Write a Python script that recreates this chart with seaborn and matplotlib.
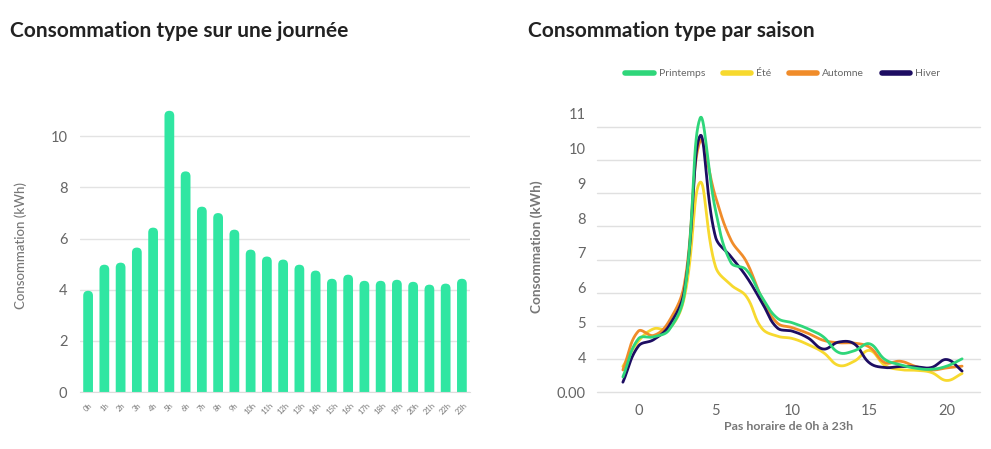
import numpy as np
import pandas as pd
import seaborn as sns
import matplotlib.pyplot as plt
from matplotlib.patches import FancyBboxPatch
from matplotlib.lines import Line2D

# left chart: average day
hours = [f"{h}h" for h in range(24)]
day_kwh = [3.96, 4.98, 5.06, 5.65, 6.43, 11.0, 8.63, 7.25, 7.0, 6.35, 5.57, 5.3,
           5.18, 4.98, 4.75, 4.43, 4.59, 4.35, 4.35, 4.39, 4.31, 4.2, 4.24, 4.43]

# right chart: per season
season_x = list(range(-1, 22))
printemps = [3.45, 4.54, 4.6, 4.8, 5.86, 10.85, 8.24, 6.73, 6.52, 5.75, 5.14, 5.0,
             4.83, 4.6, 4.15, 4.2, 4.4, 3.95, 3.8, 3.7, 3.67, 3.76, 3.97]
ete = [3.75, 4.47, 4.83, 4.83, 5.76, 9.02, 6.62, 6.09, 5.76, 4.85, 4.62, 4.55,
       4.38, 4.15, 3.78, 3.9, 4.21, 3.78, 3.66, 3.64, 3.58, 3.35, 3.55]
automne = [3.65, 4.76, 4.64, 5.05, 6.14, 10.2, 8.62, 7.38, 6.76, 5.72, 5.0, 4.86,
           4.7, 4.5, 4.43, 4.42, 4.3, 3.86, 3.9, 3.75, 3.65, 3.71, 3.76]
hiver = [3.3, 4.33, 4.52, 4.92, 5.95, 10.35, 7.47, 6.9, 6.33, 5.6, 4.86, 4.76,
         4.57, 4.25, 4.45, 4.4, 3.85, 3.72, 3.75, 3.74, 3.72, 3.95, 3.62]
seasons = ["Printemps", "Été", "Automne", "Hiver"]
colors = {"Printemps": "#2fd67a", "Été": "#f7d92e", "Automne": "#f08c2a", "Hiver": "#1d0d62"}
yticks_r = [3, 4, 5, 6, 7, 8, 9, 10, 11]
ytick_labels_r = ["0.00", "4", "5", "6", "7", "8", "9", "10", "11"]


def smooth_curve(x, y, tension=0.4, sx=15.42, sy=35.0, n=40):
    # bezier smoothing like the web chart (control points from neighbours)
    p = np.column_stack([np.asarray(x, float) * sx, np.asarray(y, float) * sy])
    k = len(p)
    cprev, cnext = np.zeros_like(p), np.zeros_like(p)
    for i in range(k):
        a, c = p[max(i - 1, 0)], p[min(i + 1, k - 1)]
        d01, d12 = np.hypot(*(p[i] - a)), np.hypot(*(c - p[i]))
        tot = d01 + d12
        s01, s12 = (d01 / tot, d12 / tot) if tot else (0, 0)
        cprev[i] = p[i] - tension * s01 * (c - a)
        cnext[i] = p[i] + tension * s12 * (c - a)
    t = np.linspace(0, 1, n)[:, None]
    pts = []
    for i in range(k - 1):
        b = ((1 - t) ** 3 * p[i] + 3 * (1 - t) ** 2 * t * cnext[i]
             + 3 * (1 - t) * t ** 2 * cprev[i + 1] + t ** 3 * p[i + 1])
        pts.append(b if i == 0 else b[1:])
    pts = np.vstack(pts)
    return pts[:, 0] / sx, pts[:, 1] / sy


sns.set_style("white")
plt.rcParams['font.family'] = ['Lato', 'DejaVu Sans']

fig = plt.figure(figsize=(9.91, 4.49), dpi=100)
ax1 = fig.add_axes([0.0807, 0.1269, 0.3936, 0.6548])
ax2 = fig.add_axes([0.6024, 0.1254, 0.3865, 0.6519])

# ---- left: bars
df = pd.DataFrame({"heure": hours, "kwh": day_kwh})
sns.barplot(data=df, x="heure", y="kwh", color="#30e6a2", width=0.6, saturation=1, ax=ax1)
ax1.set_ylim(0, 11.5)
ax1.set_xlim(-0.5, 23.5)
for p in list(ax1.patches):
    x0, w, h = p.get_x(), p.get_width(), p.get_height()
    rb = FancyBboxPatch((x0, -0.5), w, h + 0.5, boxstyle="round,pad=0,rounding_size=0.3",
                        mutation_aspect=0.64, fc="#30e6a2", ec="none", zorder=2)
    ax1.add_patch(rb)
    p.remove()
ax1.set_yticks([0, 2, 4, 6, 8, 10])
ax1.yaxis.grid(True, color="#e3e3e3", lw=1)
ax1.set_axisbelow(True)
for s in ["top", "right", "left"]:
    ax1.spines[s].set_visible(False)
ax1.spines["bottom"].set_color("#dddddd")
ax1.tick_params(axis="y", length=0, labelsize=10.5, labelcolor="#666666", pad=9)
ax1.tick_params(axis="x", length=3, color="#dddddd", labelsize=5.5, labelcolor="#777777", pad=4)
plt.setp(ax1.get_xticklabels(), rotation=45, ha="center")
ax1.set_xlabel("")
ax1.set_ylabel("Consommation (kWh)", fontsize=9.5, color="#777777", labelpad=17,
               fontweight="medium")
fig.text(0.010, 0.93, "Consommation type sur une journée", fontsize=15, fontweight="bold",
         color="#222222", va="center")

# ---- right: smoothed season curves
draw_order = ["Été", "Automne", "Hiver", "Printemps"]
data = {"Printemps": printemps, "Été": ete, "Automne": automne, "Hiver": hiver}
for name in draw_order:
    xs, ys = smooth_curve(season_x, data[name])
    sns.lineplot(x=xs, y=ys, color=colors[name], lw=2, ax=ax2, legend=False, sort=False)
ax2.set_xlim(-2.68, 22.16)
ax2.set_ylim(3.017, 11.38)
ax2.set_yticks(yticks_r)
ax2.set_yticklabels(ytick_labels_r)
for k in range(9):
    ax2.axhline(3.017 + k * 33.2 / 35, color="#e0e0e0", lw=1, zorder=0, clip_on=False)
ax2.set_xticks([0, 5, 10, 15, 20])
for s in ["top", "right", "left", "bottom"]:
    ax2.spines[s].set_visible(False)
ax2.tick_params(axis="y", length=0, labelsize=10.5, labelcolor="#666666", pad=8)
ax2.tick_params(axis="x", length=4, color="#dddddd", labelsize=10.5, labelcolor="#666666", pad=4)
ax2.set_xlabel("Pas horaire de 0h à 23h", fontsize=8.9, fontweight="bold", color="#777777", labelpad=2)
ax2.set_ylabel("Consommation (kWh)", fontsize=9.8, fontweight="bold", color="#777777", labelpad=10)
handles = [Line2D([], [], color=colors[n], lw=4, solid_capstyle="round") for n in seasons]
fig.legend(handles, seasons, loc="center", bbox_to_anchor=(0.79, 0.836), ncol=4, frameon=False,
           fontsize=7.5, handlelength=2.7, columnspacing=1.7, handletextpad=0.5, labelcolor="#666666")
fig.text(0.533, 0.93, "Consommation type par saison", fontsize=15, fontweight="bold",
         color="#222222", va="center")

plt.savefig("out.png", dpi=100)
